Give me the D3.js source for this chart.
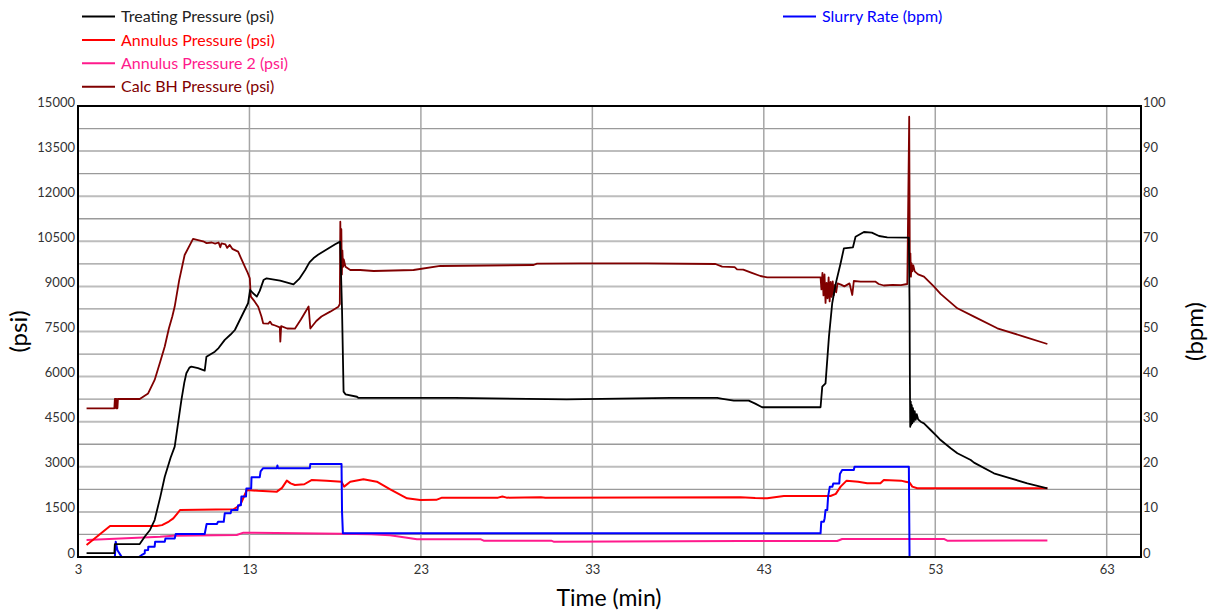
<!DOCTYPE html>
<html>
<head>
<meta charset="utf-8">
<script src="https://cdn.jsdelivr.net/npm/d3@7"></script>
<style>
  html, body { margin: 0; padding: 0; background: #fff; }
  svg { display: block; font-family: Lato, "Open Sans", sans-serif; }
</style>
</head>
<body>
<svg id="chart" width="1215" height="612"></svg>
<script>
// ---- data: [time (min), value] ----
const treatingPressure = [
  [3.5,130],[5.12,130],[5.15,430],[6.6,430],[6.9,680],[7.2,900],[7.47,1230],[7.8,2000],[8.06,2670],
  [8.4,3300],[8.64,3670],[8.85,4500],[9.03,5220],[9.2,5800],[9.32,6110],[9.5,6300],[9.61,6330],
  [10.0,6280],[10.39,6200],[10.49,6660],[10.98,6830],[11.2,6950],[11.56,7220],[11.9,7400],[12.15,7550],
  [12.53,7990],[12.92,8440],[13.04,8880],[13.2,8780],[13.43,8660],[13.6,8850],[13.82,9210],[14.0,9270],
  [14.79,9190],[15.57,9070],[15.9,9250],[16.25,9545],[16.5,9800],[16.73,9935],[17.0,10050],[17.5,10230],
  [18.0,10400],[18.29,10490],[18.4,8215],[18.49,5500],[18.6,5410],[19.27,5330],[19.36,5290],[25,5290],
  [31.5,5245],[37.55,5290],[40.28,5290],[40.6,5260],[41.25,5200],[42.12,5200],[42.5,5100],[42.9,4980],
  [46.31,4980],[46.41,5665],[46.6,5776],[46.8,7330],[46.99,8440],[47.2,9100],[47.48,9770],[47.67,10266],
  [48.2,10300],[48.35,10654],[48.84,10810],[49.3,10790],[49.72,10676],[50.2,10632],[51.46,10620],
  [51.5,8500],[51.52,6000],[51.54,4330],[51.57,5170],[51.6,4400],[51.63,5050],[51.66,4450],[51.7,4950],
  [51.75,4500],[51.8,4850],[51.86,4560],[51.92,4750],[52.0,4580],[52.15,4500],[52.34,4446],[52.73,4224],
  [53.12,4002],[53.31,3890],[53.9,3615],[54.29,3450],[55.07,3226],[55.26,3140],[56.42,2784],[57.2,2650],
  [58.37,2450],[59.54,2285]
];

const annulusPressure = [
  [3.5,400],[4.87,1031],[7.59,1031],[7.9,1060],[8.3,1180],[8.56,1286],[8.8,1450],[8.95,1563],[12.07,1586],
  [12.46,1730],[12.85,2228],[13.5,2200],[14.6,2173],[14.9,2300],[15.18,2539],[15.4,2450],[15.65,2395],
  [16.2,2420],[16.62,2560],[17.5,2540],[18.37,2506],[18.52,2340],[18.88,2506],[19.65,2584],[20.43,2506],
  [21.21,2251],[22.19,1953],[22.96,1896],[23.9,1900],[24.23,1974],[27.5,1974],[27.75,2010],[28.0,1974],
  [30.0,1990],[30.26,1974],[41.64,1990],[42.5,1960],[43.2,1953],[44.17,2029],[46.89,2029],[47.2,2100],
  [47.48,2340],[47.83,2540],[48.5,2500],[49.03,2451],[49.8,2451],[50.0,2561],[51.0,2540],[51.27,2506],
  [51.5,2480],[51.66,2340],[51.95,2285],[59.54,2285]
];

const annulusPressure2 = [
  [3.5,565],[7.79,676],[8.56,710],[12.26,730],[12.65,810],[18.29,770],[20.1,755],[21.2,720],[22.19,643],
  [22.77,588],[26.5,588],[26.66,543],[30.6,543],[30.74,510],[41.64,532],[47.28,532],[47.57,600],
  [53.5,600],[53.7,543],[59.54,550]
];

const calcBHPressure = [
  [3.5,4945],[5.12,4945],[5.15,5255],[5.2,5255],[5.22,4945],[5.26,5255],[5.3,4945],[5.33,5255],[6.6,5255],
  [7.09,5440],[7.47,5890],[7.8,6500],[8.06,7000],[8.3,7600],[8.5,8000],[8.64,8330],[8.9,9200],[9.22,10045],
  [9.71,10580],[10.0,10540],[10.3,10500],[10.5,10440],[10.8,10460],[11.0,10420],[11.2,10460],[11.3,10300],
  [11.37,10433],[11.6,10400],[11.7,10280],[11.85,10380],[12.0,10250],[12.34,10155],[12.5,9950],[12.73,9656],
  [12.9,9450],[13.02,9270],[13.08,8658],[13.3,8500],[13.51,8326],[13.7,8000],[13.8,7773],[14.1,7760],
  [14.2,7830],[14.3,7740],[14.5,7700],[14.77,7640],[14.8,7161],[14.85,7680],[15.2,7600],[15.65,7594],
  [16.0,7900],[16.45,8330],[16.55,7600],[16.9,7850],[17.2,8000],[17.71,8160],[18.19,8326],[18.27,8415],
  [18.3,11150],[18.33,9500],[18.36,10900],[18.39,9400],[18.42,10200],[18.46,9650],[18.5,9900],[18.6,9656],
  [18.88,9545],[19.46,9545],[20.24,9512],[22.57,9545],[24.13,9679],[29.57,9712],[29.77,9756],[32.3,9768],
  [36.19,9768],[40.18,9745],[40.57,9656],[41.3,9640],[41.44,9568],[41.8,9560],[42.3,9450],[42.8,9346],
  [43.2,9300],[46.31,9300],[46.36,8900],[46.42,9450],[46.48,8700],[46.54,9400],[46.6,8450],[46.66,9120],
  [46.72,8604],[46.78,9300],[46.84,8500],[46.9,9150],[46.96,8650],[47.02,9170],[47.08,8700],[47.15,9050],
  [47.22,8800],[47.3,9100],[47.5,9060],[47.7,9000],[48.0,9100],[48.16,8714],[48.25,9180],[48.64,9157],
  [49.5,9160],[49.7,9080],[50.0,9030],[50.5,9050],[51.0,9040],[51.37,9080],[51.48,14645],[51.5,11874],
  [51.52,9435],[51.55,10100],[51.58,9323],[51.62,9768],[51.66,9500],[51.72,9700],[51.8,9500],[52.0,9400],
  [52.34,9323],[52.93,8990],[53.31,8750],[54.29,8271],[55.26,7993],[56.62,7607],[58.17,7328],[59.54,7084]
];

const slurryRate = [
  [3.5,0],[5.15,0],[5.2,3.4],[5.3,1.5],[5.5,0.3],[5.55,0],[6.55,0],[6.7,0.4],[6.89,0.8],[6.9,1.5],
  [7.09,1.55],[7.1,2.3],[7.47,2.3],[7.5,3.4],[8.06,3.4],[8.1,4.1],[8.64,4.1],[8.7,5.1],[10.39,5.1],
  [10.5,7.3],[11.1,7.3],[11.17,7.8],[11.5,7.8],[11.56,9.7],[11.9,9.7],[11.95,10.4],[12.3,10.4],[12.34,11.5],
  [12.5,11.5],[12.53,13.4],[12.8,13.4],[12.82,15.2],[13.1,15.2],[13.12,17.7],[13.6,17.7],[13.65,19.0],
  [13.8,19.7],[14.6,19.7],[14.63,20.3],[14.66,19.7],[16.52,19.7],[16.55,20.6],[18.37,20.6],[18.4,10],
  [18.45,5.25],[46.31,5.25],[46.35,7.8],[46.5,7.8],[46.55,8.6],[46.6,10.4],[46.7,10.4],[46.75,13.4],
  [46.85,15.6],[47.0,15.6],[47.05,16.3],[47.4,16.3],[47.44,18.4],[47.57,19.3],[48.25,19.3],[48.29,20.0],
  [51.46,20.0],[51.5,0],[59.54,0]
];

const timeTicks = [3, 13, 23, 33, 43, 53, 63];
const psiTicks = d3.range(0, 15001, 1500);
const psiGrid = d3.range(0, 15001, 750);
const bpmTicks = d3.range(0, 101, 10);

// ---- layout ----
const svg = d3.select("#chart");
const plotLeft = 78, plotRight = 1141, plotTop = 106, plotBottom = 557;

const x = d3.scaleLinear().domain([3, 65]).range([plotLeft, plotRight]);
const yP = d3.scaleLinear().domain([0, 15000]).range([plotBottom, plotTop]);
const yR = d3.scaleLinear().domain([0, 100]).range([plotBottom, plotTop]);

// grid
const grid = svg.append("g").attr("class", "grid");
grid.selectAll("line.h").data(psiGrid).join("line")
  .attr("x1", plotLeft).attr("x2", plotRight)
  .attr("y1", d => yP(d)).attr("y2", d => yP(d))
  .attr("stroke", (d, i) => i % 2 ? "#9a9a9a" : "#bdbdbd")
  .attr("stroke-width", (d, i) => i % 2 ? 1.3 : 2);
grid.selectAll("line.v").data(timeTicks).join("line")
  .attr("x1", d => x(d)).attr("x2", d => x(d))
  .attr("y1", plotTop).attr("y2", plotBottom)
  .attr("stroke", "#a6a6a6").attr("stroke-width", 1.5);

// axes
const tickFont = 13;
const gL = svg.append("g").attr("transform", `translate(${plotLeft},0)`)
  .call(d3.axisLeft(yP).tickValues(psiTicks).tickSize(0).tickPadding(3).tickFormat(d3.format("d")));
const gR = svg.append("g").attr("transform", `translate(${plotRight},0)`)
  .call(d3.axisRight(yR).tickValues(bpmTicks).tickSize(0).tickPadding(2).tickFormat(d3.format("d")));
const gB = svg.append("g").attr("transform", `translate(0,${plotBottom})`)
  .call(d3.axisBottom(x).tickValues(timeTicks).tickSize(0).tickPadding(8).tickFormat(d3.format("d")));
[gL, gR, gB].forEach(g => {
  g.select(".domain").remove();
  g.selectAll("text").attr("font-size", tickFont).attr("fill", "#333")
    .attr("font-family", "Lato, sans-serif");
});
gL.selectAll("text").attr("dy", 0);
gR.selectAll("text").attr("dy", 0);

// series
svg.append("clipPath").attr("id", "plot-clip")
  .append("rect").attr("x", plotLeft).attr("y", plotTop - 2)
  .attr("width", plotRight - plotLeft).attr("height", plotBottom - plotTop + 2);

const linePsi = d3.line().x(d => x(d[0])).y(d => yP(d[1]));
const lineBpm = d3.line().x(d => x(d[0])).y(d => yR(d[1]));

const plot = svg.append("g").attr("clip-path", "url(#plot-clip)");
const series = [
  { data: annulusPressure2, gen: linePsi, color: "#ff1a8c", w: 2 },
  { data: annulusPressure, gen: linePsi, color: "#ff0000", w: 2 },
  { data: slurryRate, gen: lineBpm, color: "#0000ff", w: 2 },
  { data: calcBHPressure, gen: linePsi, color: "#800000", w: 1.8 },
  { data: treatingPressure, gen: linePsi, color: "#000000", w: 1.8 }
];
series.forEach(s => {
  plot.append("path").datum(s.data)
    .attr("d", s.gen)
    .attr("fill", "none")
    .attr("stroke", s.color)
    .attr("stroke-width", s.w)
    .attr("stroke-linejoin", "round");
});

// frame
svg.append("rect").attr("x", plotLeft).attr("y", plotTop)
  .attr("width", plotRight - plotLeft).attr("height", plotBottom - plotTop)
  .attr("fill", "none").attr("stroke", "#000").attr("stroke-width", 2);

// axis titles
svg.append("text").attr("transform", `translate(27,${(plotTop + plotBottom) / 2}) rotate(-90)`)
  .attr("text-anchor", "middle").attr("font-size", 24).attr("fill", "#000").text("(psi)");
svg.append("text").attr("transform", `translate(1203,${(plotTop + plotBottom) / 2}) rotate(-90)`)
  .attr("text-anchor", "middle").attr("font-size", 24).attr("fill", "#000").text("(bpm)");
svg.append("text").attr("x", 609).attr("y", 606)
  .attr("text-anchor", "middle").attr("font-size", 23).attr("fill", "#000").text("Time (min)");

// legend
const legendLeft = [
  { label: "Treating Pressure (psi)", color: "#000000", text: "#222" },
  { label: "Annulus Pressure (psi)", color: "#ff0000", text: "#ff0000" },
  { label: "Annulus Pressure 2 (psi)", color: "#ff1a8c", text: "#ff1a8c" },
  { label: "Calc BH Pressure (psi)", color: "#800000", text: "#800000" }
];
const legendRight = [
  { label: "Slurry Rate (bpm)", color: "#0000ff", text: "#0000ff" }
];
function legend(items, x0, y0) {
  const g = svg.append("g").attr("transform", `translate(${x0},${y0})`);
  const row = g.selectAll("g").data(items).join("g")
    .attr("transform", (d, i) => `translate(0,${i * 23.4})`);
  row.append("line").attr("x1", 0).attr("x2", 33).attr("y1", 0).attr("y2", 0)
    .attr("stroke", d => d.color).attr("stroke-width", 2);
  row.append("text").attr("x", 39).attr("y", 0).attr("dy", "0.35em")
    .attr("font-size", 16).attr("fill", d => d.text).text(d => d.label);
}
legend(legendLeft, 82, 16.5);
legend(legendRight, 783, 16.5);
</script>
</body>
</html>
